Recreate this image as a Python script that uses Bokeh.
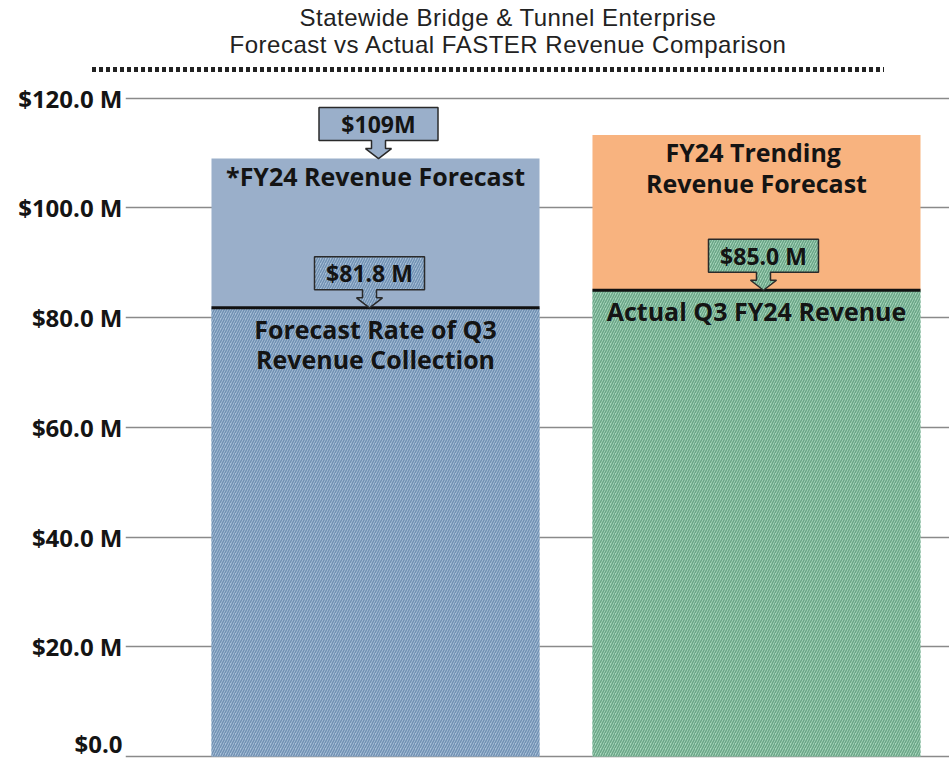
from bokeh.plotting import figure
from bokeh.models import Range1d, FixedTicker, Div
from bokeh.layouts import column
from bokeh.embed import file_html
from bokeh.resources import INLINE
from bokeh.core.properties import value

# ---------------- data ----------------
bars = ["FY24 Revenue Forecast", "FY24 Trending Revenue Forecast"]
bar_x = [0, 1]
q3_values = [81.8, 85.0]          # forecast Q3 rate / actual Q3 revenue
fy_totals = [109.0, 113.3]        # FY24 forecast / trending forecast
top_labels = ["*FY24 Revenue Forecast", "FY24  Trending\nRevenue Forecast"]
bottom_labels = ["Forecast Rate of Q3\nRevenue Collection", "Actual Q3 FY24 Revenue"]
callout_texts_top = ["$109M"]
callout_texts_q3 = ["$81.8 M", "$85.0 M"]
y_ticks = [0, 20, 40, 60, 80, 100, 120]
y_tick_labels = ["$0.0", "$20.0 M", "$40.0 M", "$60.0 M", "$80.0 M", "$100.0 M", "$120.0 M"]
title_lines = ["Statewide Bridge &amp; Tunnel Enterprise", "Forecast vs Actual FASTER Revenue Comparison"]

# ---------------- styles ----------------
FONT = "Open Sans"
BLUE_TOP = "#9aafca"
BLUE_HATCH_BG = "#a9c0d8"
BLUE_HATCH = "#7191b3"
GREEN_HATCH_BG = "#a8d5bc"
GREEN_HATCH = "#6aa687"
ORANGE = "#f8b37f"
TXT = "#141414"

W = 949
H_TOP = 78
H_MAIN = 681
LEFT = 125
X0, X1 = -0.6562, 1.5066
Y0, Y1 = -0.55, 123.6
FRAME_W = W - LEFT
PPX = FRAME_W / (X1 - X0)
PPY = H_MAIN / (Y1 - Y0)
BAR_W = 0.861
TOP_CALLOUT_DX = 3        # pixel nudges of the callouts
Q3_CALLOUT_DX = [-6, 7]

# ---------------- title block ----------------
title_html = (
    '<div style="position:relative;width:%dpx;height:%dpx;font-family:\'Liberation Sans\';'
    'color:#222;">'
    '<div style="position:absolute;left:67px;width:882px;top:4px;text-align:center;'
    'font-size:24px;letter-spacing:0.5px;line-height:27px;white-space:nowrap;">%s<br>%s</div>'
    '<div style="position:absolute;left:92px;width:792px;top:67px;height:5px;'
    'background:repeating-linear-gradient(to right,#222 0px,#222 4px,transparent 4px,transparent 7px);">'
    '</div></div>' % (W, H_TOP, title_lines[0], title_lines[1])
)
t = Div(text=title_html, width=W, height=H_TOP, margin=0)

# ---------------- main figure ----------------
p = figure(width=W, height=H_MAIN, x_range=Range1d(X0, X1), y_range=Range1d(Y0, Y1),
           output_backend="svg", toolbar_location=None, x_axis_location=None,
           min_border_left=LEFT, min_border_right=0, min_border_top=0, min_border_bottom=0,
           outline_line_color=None, margin=0)
p.xgrid.visible = False
p.ygrid.grid_line_color = "#8a8a8a"
p.ygrid.grid_line_width = 1.5
p.yaxis.ticker = FixedTicker(ticks=y_ticks)
p.yaxis.major_label_overrides = {tk: lb for tk, lb in zip(y_ticks, y_tick_labels)}
p.yaxis.axis_line_color = None
p.yaxis.major_tick_line_color = None
p.yaxis.major_tick_out = 0
p.yaxis.major_tick_in = 0
p.yaxis.minor_tick_line_color = None
p.yaxis.minor_tick_out = 0
p.yaxis.major_label_standoff = 3
p.yaxis.major_label_text_font = FONT
p.yaxis.major_label_text_font_size = "24px"
p.yaxis.major_label_text_font_style = "bold"
p.yaxis.major_label_text_color = TXT

HATCH = dict(hatch_pattern="/", hatch_scale=5, hatch_weight=1.5)

# lower (hatched) segments
p.vbar(x=bar_x, width=BAR_W, bottom=0, top=q3_values,
       fill_color=[BLUE_HATCH_BG, GREEN_HATCH_BG], line_color=None,
       hatch_color=[BLUE_HATCH, GREEN_HATCH], **HATCH)
# upper segments
p.vbar(x=bar_x, width=BAR_W, bottom=q3_values, top=fy_totals,
       fill_color=[BLUE_TOP, ORANGE], line_color=None)
# dividing lines
p.segment(x0=[x - BAR_W / 2 for x in bar_x], x1=[x + BAR_W / 2 for x in bar_x],
          y0=q3_values, y1=q3_values, line_color="#111111", line_width=3)

# texts in the bars
p.text(x=bar_x, y=fy_totals, text=top_labels, text_align="center", text_baseline="top",
       y_offset=0, text_font=value(FONT), text_font_style="bold", text_font_size="25px",
       text_color=TXT, text_line_height=0.9)
p.text(x=bar_x, y=q3_values, text=bottom_labels, text_align="center", text_baseline="top",
       y_offset=4, text_font=value(FONT), text_font_style="bold", text_font_size="25px",
       text_color=TXT, text_line_height=0.88)


# callouts
def callout(xc, tip, w, dx=0, h=33, ah=18, hh=10, hw=13, sw=7):
    pts = [(0, 0), (hw, hh), (sw, hh), (sw, ah), (w / 2, ah), (w / 2, ah + h), (-w / 2, ah + h),
           (-w / 2, ah), (-sw, ah), (-sw, hh), (-hw, hh)]
    xs = [xc + (dx + px) / PPX for px, py in pts]
    ys = [tip + py / PPY for px, py in pts]
    return xs, ys, xc + dx / PPX, tip + (ah + h / 2) / PPY


xs, ys, cx, cy = callout(bar_x[0], fy_totals[0], 119, TOP_CALLOUT_DX)
p.patches(xs=[xs], ys=[ys], fill_color=BLUE_TOP, line_color="#2a2a2a", line_width=1.5)
p.text(x=[cx], y=[cy], text=callout_texts_top, text_align="center", text_baseline="middle",
       text_font=value(FONT), text_font_style="bold", text_font_size="23px", text_color=TXT)

cxs, cys, ctx, cty = [], [], [], []
for bx, qv, dx in zip(bar_x, q3_values, Q3_CALLOUT_DX):
    a, b, c, d = callout(bx, qv, 110, dx)
    cxs.append(a); cys.append(b); ctx.append(c); cty.append(d)
p.patches(xs=cxs, ys=cys, fill_color=[BLUE_HATCH_BG, GREEN_HATCH_BG], line_color="#2a2a2a",
          line_width=1.5, hatch_color=[BLUE_HATCH, GREEN_HATCH], **HATCH)
p.text(x=ctx, y=cty, text=callout_texts_q3, text_align="center", text_baseline="middle",
       text_font=value(FONT), text_font_style="bold", text_font_size="23px", text_color=TXT)

layout = column(t, p, spacing=0, margin=0)
open("out.html", "w").write(file_html(layout, INLINE))
